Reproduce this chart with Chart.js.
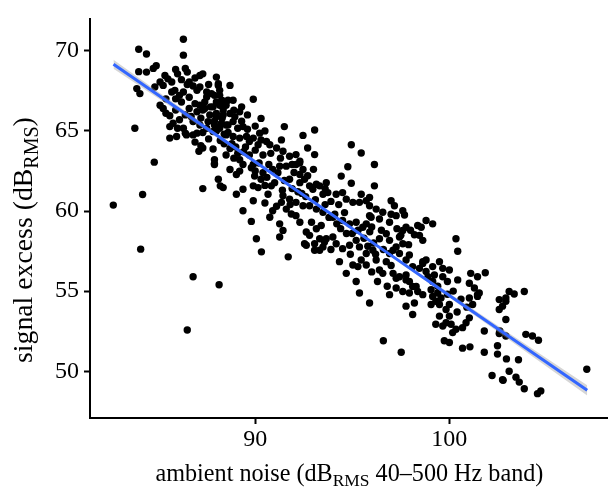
<!DOCTYPE html>
<html>
<head>
<meta charset="utf-8">
<script src="https://cdn.jsdelivr.net/npm/chart.js@4.4.1/dist/chart.umd.min.js"></script>
<style>
html,body{margin:0;padding:0;background:#fff;}
#c{display:block;}
</style>
</head>
<body>
<canvas id="c" width="611" height="491"></canvas>
<script>
// ---- data ----
// [ambient noise (dB RMS), signal excess (dB RMS)]
const observations = [
[84.8,63.05],[84.2,61.03],[82.69,60.37],[84.1,57.62],[86.8,55.9],[86.5,52.57],[88.14,55.4],[87.3,61.4],
[87.2,64.07],[87.1,63.73],[87.83,63.87],[87.9,63.2],[87.9,62.96],[88.1,61.98],[88.2,61.57],[86.4,64.86],[87.0,64.86],
[86.3,70.72],[84.0,70.1],[84.4,69.8],[86.3,69.73],[84.9,69.07],[84.75,68.9],[84.0,68.7],[84.4,68.67],
[85.9,68.83],[86.0,68.56],[86.4,68.9],[86.5,68.67],[87.15,68.46],[88.0,68.36],[85.35,68.46],[85.5,68.25],
[85.7,68.05],[85.1,68.05],[85.26,67.84],[86.6,68.05],[86.5,67.9],[83.9,67.64],[84.06,67.33],[84.83,67.74],
[85.7,67.43],[85.86,67.53],[86.1,67.22],[86.3,67.43],[87.0,67.53],[87.15,67.74],[87.5,67.43],[88.1,67.84],
[87.9,67.22],[85.1,66.6],[85.26,66.4],[85.4,66.1],[85.6,65.95],[85.77,65.48],[85.6,65.27],[86.0,65.17],
[83.8,65.17],[86.6,66.4],[87.0,66.2],[87.3,66.3],[87.66,65.99],[88.0,66.09],[88.35,66.3],[88.5,66.6],
[86.8,65.58],[87.15,65.37],[87.5,65.17],[87.83,64.96],[88.17,65.17],[88.5,65.37],[86.3,65.17],[86.46,64.75],
[86.8,64.75],[85.6,64.55],[85.95,64.65],[88.17,67.22],[88.6,66.91],[88.7,67.84],
[86.2,66.8],[86.4,66.0],[86.7,65.9],[86.9,66.7],[87.2,65.8],[87.4,66.8],[87.7,66.5],[87.9,65.6],
[88.3,65.8],[88.4,64.8],[86.1,65.7],[85.9,66.3],[87.3,64.9],[88.0,65.0],[86.6,67.1],
[86.9,64.3],[87.6,64.5],[88.2,64.4],[88.8,64.2],[89.1,63.6],[89.5,64.0],[88.6,64.9],[89.3,65.6],
[88.9,66.3],[88.0,66.8],[87.6,67.9],[86.9,68.3],[86.2,68.2],[85.4,67.0],[85.9,67.0],[86.8,67.8],
[87.3,68.56],[88.1,67.94],[88.17,67.53],[87.5,67.12],[87.75,67.33],[88.86,66.91],[89.3,66.5],[89.9,66.98],
[87.15,66.6],[87.4,66.4],[87.83,66.5],[88.17,66.6],[88.0,65.89],[88.35,65.99],[88.7,66.09],[88.95,65.89],
[89.2,66.2],[90.3,65.78],[87.57,65.58],[87.9,65.37],[88.26,65.48],[88.6,65.37],[88.86,65.58],[89.1,65.17],
[89.37,65.27],[91.5,65.27],[93.06,65.06],[92.46,64.72],[88.5,64.75],[88.86,64.65],[89.2,64.55],[89.55,64.65],
[89.9,64.55],[90.23,64.86],[90.3,64.44],[90.75,64.14],[91.35,64.44],[91.1,63.93],[91.43,63.73],[91.77,63.42],
[92.1,63.52],[92.3,63.11],[92.7,63.93],[93.06,63.52],[87.3,63.93],[89.37,62.9],[89.9,62.9],[89.7,64.34],
[90.15,64.14],[90.58,64.34],
[88.4,64.2],[88.7,63.9],[89.0,64.0],[89.4,63.7],[89.7,63.5],[88.9,63.3],[88.5,63.5],[89.2,63.2],
[90.0,63.8],[90.4,63.5],[89.6,65.1],[90.0,65.3],[90.5,65.0],[88.3,66.9],[89.6,66.0],
[87.9,62.9],[88.35,61.46],[88.7,62.59],[89.03,62.28],[89.2,62.49],[89.03,61.05],[89.37,61.36],[89.8,62.7],
[89.97,62.18],[89.9,61.57],[90.15,61.46],[90.3,61.98],[90.4,62.39],[90.66,61.05],[90.83,61.57],[91.0,61.77],
[91.17,62.39],[91.26,62.8],[89.9,60.64],[89.37,60.02],[89.8,59.35],[90.9,60.02],[90.75,59.61],[91.26,59.2],
[91.43,58.79],[91.26,58.38],[90.06,58.27],[90.32,57.45],[91.7,57.14],[91.35,60.54],[91.6,60.12],[91.86,59.81],
[92.1,59.71],[91.43,60.95],[91.77,60.74],[92.1,60.54],[92.46,60.33],[92.8,60.33],[93.15,60.12],[93.49,59.92],
[92.63,58.69],[92.8,58.48],[92.54,57.96],[93.06,57.96],[93.32,57.55],[93.15,58.89],[93.32,58.27],[93.57,58.07],
[91.77,61.98],[92.3,61.77],[92.8,61.57],[92.97,61.36],[93.32,61.57],[93.66,61.77],[93.74,61.15],[91.6,62.8],
[92.1,62.9],[92.46,62.59],[92.3,62.28],
[90.6,62.1],[90.9,62.6],[91.4,61.3],[91.9,61.4],[92.4,61.1],[92.6,60.9],[92.0,62.4],[90.5,60.5],
[91.1,60.3],[92.9,59.3],[93.8,59.6],[93.4,59.1],[92.3,59.3],[90.2,63.0],[90.7,62.9],
[90.0,62.5],[90.5,61.6],[91.5,61.9],[91.9,62.9],[92.7,62.2],[93.0,62.6],[91.3,63.3],[90.8,63.6],
[91.8,60.4],[92.2,61.2],[93.1,60.7],[93.6,61.4],
[94.95,64.14],[95.46,63.62],[96.14,62.9],[94.77,62.76],[94.43,62.18],[94.95,61.73],[96.14,61.57],[95.46,61.05],
[95.89,60.85],[97.0,60.64],[97.17,60.33],[93.15,61.67],[93.49,61.05],[94.17,61.05],[94.5,61.15],[94.69,60.74],
[95.03,60.54],[95.37,60.54],[95.72,60.64],[95.89,60.33],[96.23,60.12],[92.29,63.0],[92.54,61.98],
[93.9,60.6],[94.3,60.4],[94.6,59.9],[93.6,60.4],[94.1,59.8],
[92.63,57.86],[93.06,57.55],[93.49,57.76],[93.66,58.27],[94.0,58.38],[94.17,57.96],[94.5,57.65],[94.86,57.86],
[95.2,58.17],[95.37,57.76],[95.72,57.35],[96.06,57.55],[94.34,56.84],[94.69,56.11],[95.03,56.63],[95.29,56.53],
[95.46,56.94],[95.72,56.63],[95.2,55.6],[95.37,54.88],[95.89,54.26],[96.23,56.94],[96.4,56.32],[96.57,56.11],
[96.75,56.84],[96.92,57.35],[97.1,57.55],[96.4,58.27],[96.75,58.58],[96.92,58.17],[97.26,57.76],[97.43,58.38],
[97.6,58.79],[97.77,58.99],[97.1,56.11],[97.26,55.8],[97.43,55.9],[97.77,55.7],[96.92,54.78],[97.26,55.19],
[97.6,54.98],[97.94,54.88],[98.29,55.29],[97.94,55.6],[97.77,54.06],[98.2,54.26],[98.11,53.54],[98.11,56.53],
[98.46,56.42],[98.63,56.73],[98.8,56.94],[95.97,59.61],[96.4,59.5],[96.57,59.92],[96.92,59.3],[97.26,59.71],
[97.6,60.02],[98.46,58.48],[98.37,59.1],[98.8,59.41],[94.0,59.61],[94.5,59.41],[94.86,59.2],[95.2,59.3],
[95.54,58.99],[95.72,59.2],[95.89,59.71],[96.6,51.9],
[95.0,58.6],[95.6,58.3],[96.1,58.0],[96.6,57.6],[96.0,56.2],[96.3,55.6],[97.0,56.6],[94.4,58.9],
[95.9,58.7],[97.3,58.9],
[94.2,59.2],[94.7,58.6],[95.3,58.8],[96.0,59.0],[96.5,58.8],[97.0,59.8],[96.2,57.3],[95.8,57.8],
[94.9,57.3],[93.9,57.6],[97.9,57.9],[98.0,58.8],[96.8,55.3],
[97.69,59.75],[99.14,59.2],[98.55,58.99],[98.2,58.52],[98.63,58.17],[97.5,58.48],[97.6,57.96],[100.34,58.27],
[100.43,57.49],[97.43,57.35],[97.94,57.25],[97.77,56.94],[98.63,56.84],[99.49,56.84],[99.66,56.42],[99.14,56.53],
[100.0,56.32],[98.8,56.22],[99.23,56.01],[99.14,55.6],[99.66,55.9],[99.9,55.6],[100.43,55.7],[101.1,56.11],
[101.45,55.9],[101.85,56.15],[97.77,56.01],[98.11,55.29],[98.37,54.98],[98.63,54.78],[99.06,55.09],[99.4,54.88],
[99.57,54.57],[101.03,55.49],[101.29,55.19],[101.45,54.78],[103.08,54.98],[103.34,54.82],[103.86,54.98],[102.91,54.57],
[98.9,55.9],[99.4,55.3],[100.2,55.0],[100.6,54.5],[99.9,54.8],[100.9,54.0],[100.4,53.7],
[97.52,51.18],[99.14,54.67],[99.3,54.37],[99.49,54.16],[99.06,54.16],[99.83,53.85],[100.0,54.16],[101.03,54.57],
[101.45,54.67],[101.54,54.88],[101.2,54.16],[102.91,54.37],[102.57,53.85],[102.91,53.23],[99.49,53.44],[100.0,53.44],
[99.83,53.03],[100.09,52.93],[99.3,52.93],[99.66,52.82],[100.17,52.41],[100.34,52.62],[100.68,52.72],[100.86,53.03],
[101.03,53.33],[99.74,51.9],[100.0,51.79],[100.68,51.44],[101.06,51.52],[101.8,52.51],[101.8,51.18],[102.57,52.35],
[102.91,52.2],[102.48,51.59],[102.48,51.07],[102.94,50.77],[103.56,50.72],[102.2,49.73],[102.77,49.43],[103.08,50.0],
[103.43,49.63],[103.6,49.32],[103.86,48.91],[102.57,54.47],[102.74,54.06],[103.94,52.3],
[102.6,52.51],[104.28,52.2],[104.59,51.93],[104.54,48.6],[104.71,48.77],[107.08,50.12],[102.74,49.47]
];

// linear fit and its confidence band
const fitX      = [82.7, 85, 88, 91, 94, 97, 100, 103, 107.1];
const fitY      = [69.16, 67.24, 64.74, 62.23, 59.73, 57.23, 54.73, 52.23, 48.81];
const bandUpper = [69.44, 67.44, 64.87, 62.32, 59.80, 57.32, 54.86, 52.43, 49.13];
const bandLower = [68.88, 67.04, 64.61, 62.14, 59.66, 57.14, 54.60, 52.03, 48.49];

const xTicks = [90, 100];
const yTicks = [50, 55, 60, 65, 70];

const xTitleParts = [{t:'ambient noise (dB'}, {t:'RMS', sub:true}, {t:' 40\u2013500 Hz band)'}];
const yTitleParts = [{t:'signal excess (dB'}, {t:'RMS', sub:true}, {t:')'}];

// ---- drawing ----
const FONT = '"Liberation Serif", "Times New Roman", serif';

function drawSubText(ctx, parts, cx, baseline, targetW) {
  const subRatio = 0.72;
  let w100 = 0;
  parts.forEach(p => {
    ctx.font = (p.sub ? 100*subRatio : 100) + 'px ' + FONT;
    w100 += ctx.measureText(p.t).width;
  });
  const size = 100 * targetW / w100;
  let x = cx - targetW / 2;
  ctx.fillStyle = '#000';
  ctx.textBaseline = 'alphabetic';
  ctx.textAlign = 'left';
  parts.forEach(p => {
    const s = p.sub ? size*subRatio : size;
    ctx.font = s + 'px ' + FONT;
    const dy = p.sub ? size*0.22 : 0;
    ctx.fillText(p.t, x, baseline + dy);
    x += ctx.measureText(p.t).width;
  });
}

const axisTitles = {
  id: 'axisTitles',
  afterDraw(chart) {
    const ctx = chart.ctx, a = chart.chartArea;
    ctx.save();
    drawSubText(ctx, xTitleParts, (a.left + a.right) / 2 + 1, 481, 388);
    ctx.restore();
    ctx.save();
    ctx.translate(32, 240);
    ctx.rotate(-Math.PI / 2);
    drawSubText(ctx, yTitleParts, 0, 0, 246);
    ctx.restore();
  }
};

const axisCommon = {
  type: 'linear',
  grid: { display: true, drawOnChartArea: false, drawTicks: true, tickLength: 6, tickWidth: 2, tickColor: '#000', color: '#000' },
  border: { display: true, color: '#000', width: 2 },
  title: { display: false }
};

new Chart(document.getElementById('c'), {
  type: 'scatter',
  data: {
    datasets: [
      {
        label: 'fit',
        data: fitX.map((x, i) => ({ x, y: fitY[i] })),
        showLine: true, borderColor: '#3366FF', borderWidth: 3, pointRadius: 0, fill: false, order: 1
      },
      {
        label: 'lower',
        data: fitX.map((x, i) => ({ x, y: bandLower[i] })),
        showLine: true, borderWidth: 0, borderColor: 'rgba(0,0,0,0)', pointRadius: 0, fill: false, order: 2
      },
      {
        label: 'upper',
        data: fitX.map((x, i) => ({ x, y: bandUpper[i] })),
        showLine: true, borderWidth: 0, borderColor: 'rgba(0,0,0,0)', pointRadius: 0,
        fill: 1, backgroundColor: 'rgba(153,153,153,0.4)', order: 2
      },
      {
        label: 'observations',
        data: observations.map(p => ({ x: p[0], y: p[1] })),
        pointRadius: 3.7, pointBackgroundColor: '#000', pointBorderWidth: 0, borderWidth: 0, order: 3
      }
    ]
  },
  options: {
    responsive: false,
    animation: false,
    devicePixelRatio: 1,
    layout: { padding: { top: 15, right: 3, left: 0, bottom: 0 } },
    plugins: { legend: { display: false }, tooltip: { enabled: false } },
    scales: {
      x: Object.assign({}, axisCommon, {
        position: 'bottom',
        min: 81.49, max: 108.12,
        afterFit: s => { s.height = 73; },
        afterBuildTicks: s => { s.ticks = xTicks.map(v => ({ value: v })); },
        ticks: { color: '#000', font: { family: FONT, size: 24 }, padding: 1, maxRotation: 0, autoSkip: false }
      }),
      y: Object.assign({}, axisCommon, {
        position: 'left',
        min: 47.08, max: 71.96,
        afterFit: s => { s.width = 90; },
        afterBuildTicks: s => { s.ticks = yTicks.map(v => ({ value: v })); },
        ticks: { color: '#000', font: { family: FONT, size: 24 }, padding: 5, autoSkip: false }
      })
    }
  },
  plugins: [axisTitles]
});
</script>
</body>
</html>
